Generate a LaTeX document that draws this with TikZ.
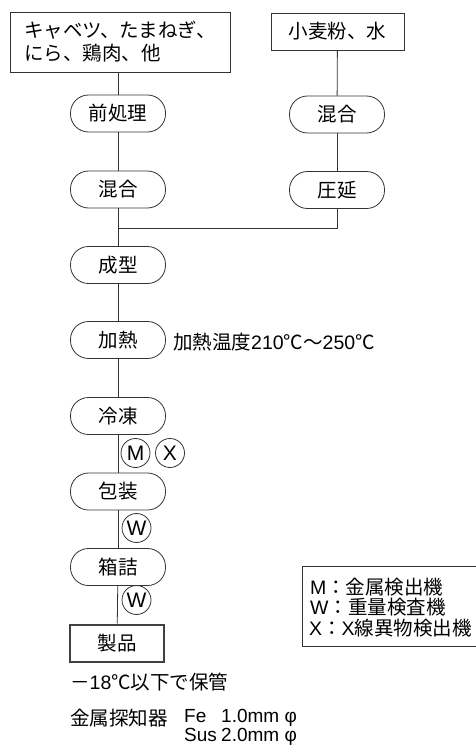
\documentclass[tikz,border=0pt]{standalone}
\usepackage{fontspec}
\setmainfont{Noto Sans CJK JP}
\newfontfamily\lat{Liberation Sans}
\usetikzlibrary{calc}
\begin{document}
\begin{tikzpicture}[x=1pt,y=-1pt,
  every node/.style={font=\fontsize{19.5}{23}\selectfont, inner sep=0pt},
  ln/.style={draw=black!80, line width=0.8pt},
  inbox/.style={ln, rectangle},
  pill/.style={ln, rectangle, rounded corners=18pt, minimum width=95pt, minimum height=37pt},
  prod/.style={draw=black!75, rectangle, line width=2pt, minimum width=94pt, minimum height=37pt},
  chk/.style={ln, circle, minimum size=29pt, font=\fontsize{21}{21}\selectfont\lat},
  lbl/.style={anchor=west}]
\useasboundingbox (0,0) rectangle (475,749);
% inputs
\node[inbox, minimum width=220pt, minimum height=60pt, align=left] (in1) at (120,42) {キャベツ、たまねぎ、\\にら、鶏肉、他};
\node[inbox, minimum width=133pt, minimum height=37pt] (in2) at (337.5,31.5) {小麦粉、水};
% left column
\node[pill] (pre) at (118,113.5) {前処理};
\node[pill] (mixL) at (118,189.5) {混合};
\node[pill] (mixR) at (337,114.5) {混合};
\node[pill] (roll) at (337,190) {圧延};
\node[pill] (form) at (118,265) {成型};
\node[pill] (heat) at (118,340) {加熱};
\node[pill] (frz) at (118,416) {冷凍};
\node[pill] (pack) at (118,491.5) {包装};
\node[pill] (box) at (118,567) {箱詰};
\node[prod] (prd) at (117,643) {製品};
\coordinate (j) at (118,228);
% connectors
\draw[ln] (in1.south -| pre.north) -- (pre.north);
\draw[ln] (pre) -- (mixL);
\draw[ln] (mixL) -- (form);
\draw[ln] (in2) -- (mixR);
\draw[ln] (mixR) -- (roll);
\draw[ln] (roll.south) |- (j);
\draw[ln] (form) -- (heat);
\draw[ln] (heat) -- (frz);
\draw[ln] (frz) -- (pack);
\draw[ln] (pack) -- (box);
\draw[ln] (box) -- (prd);
% check marks
\node[chk] (m1) at (135.5,453) {M};
\node[chk] (x1) at (170,453) {X};
\node[chk] (w1) at (136.5,528) {W};
\node[chk] (w2) at (136.5,600) {W};
% annotations
\node[lbl] (ht) at (173,342) {加熱温度{\lat 210}℃～{\lat 250}℃};
\node[lbl] (st) at (70,682) {－{\lat 18}℃以下で保管};
\node[lbl] (md) at (70,718) {金属探知器};
\node[lbl, anchor=north west, align=left, font=\fontsize{19}{19}\selectfont] (fe) at (184,709)
  {\makebox[37pt][l]{\lat Fe}{\lat 1.0mm φ}\\\makebox[37pt][l]{\lat Sus}{\lat 2.0mm φ}};
% legend
\draw[ln] (302,566) rectangle (480,646);
\node[lbl] (lg1) at (310,587) {{\lat M}：金属検出機};
\node[lbl] (lg2) at (310,607.5) {{\lat W}：重量検査機};
\node[lbl] (lg3) at (309,628) {{\lat X}：{\lat X}線異物検出機};
\end{tikzpicture}
\end{document}
